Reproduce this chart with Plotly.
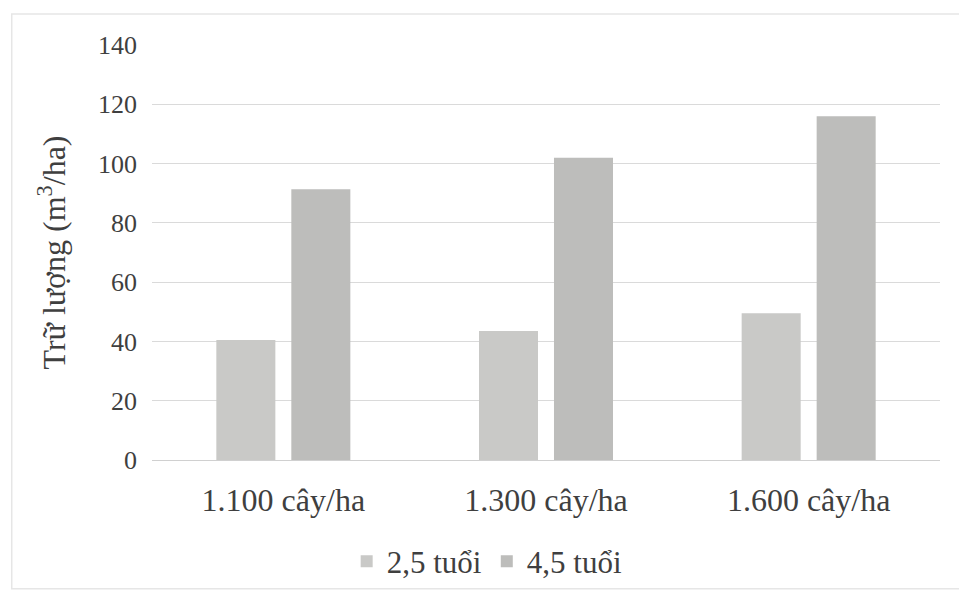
import plotly.graph_objects as go

# Stand density categories and standing volume (m3/ha) by stand age
densities = ["1.100 cây/ha", "1.300 cây/ha", "1.600 cây/ha"]
age_labels = ["2,5 tuổi", "4,5 tuổi"]
volume_2_5 = [40.5, 43.5, 49.5]
volume_4_5 = [91.3, 102, 116]
y_ticks = [0, 20, 40, 60, 80, 100, 120, 140]

FONT = "Liberation Serif"
TEXT = "#3f3f3f"

fig = go.Figure()
fig.add_trace(go.Bar(x=densities, y=volume_2_5, name=age_labels[0],
                     marker=dict(color="#c9c9c7", line=dict(width=0))))
fig.add_trace(go.Bar(x=densities, y=volume_4_5, name=age_labels[1],
                     marker=dict(color="#bdbdbb", line=dict(width=0))))

fig.update_layout(
    width=959, height=595,
    margin=dict(l=152, r=19, t=45, b=135),
    paper_bgcolor="white", plot_bgcolor="white",
    barmode="group", bargap=0.429, bargroupgap=0.213,
    font=dict(family=FONT, color=TEXT),
    showlegend=True,
    legend=dict(orientation="h", xref="container", yref="container",
                x=0.508, xanchor="center", y=0.056, yanchor="middle",
                bgcolor="rgba(0,0,0,0)",
                font=dict(size=31, family=FONT, color=TEXT),
                itemwidth=30, tracegroupgap=0),
    xaxis=dict(showgrid=False, showline=False, ticks="",
               tickfont=dict(size=32, family=FONT, color=TEXT),
               ticklabelstandoff=18),
    yaxis=dict(range=[0, 140], tickvals=y_ticks,
               showgrid=True, gridcolor="#dadada", gridwidth=1,
               zeroline=True, zerolinecolor="#d0d0d0", zerolinewidth=1,
               showline=False, ticks="",
               tickfont=dict(size=26, family=FONT, color=TEXT),
               ticklabelstandoff=14,
               title=dict(text="Trữ lượng (m<sup>3</sup>/ha)",
                          font=dict(size=32, family=FONT, color=TEXT),
                          standoff=22)),
    shapes=[dict(type="rect", xref="paper", yref="paper",
                 x0=-0.178, x1=1.05, y0=-0.31, y1=1.075,
                 line=dict(color="#e6e6e6", width=1.5), layer="below")],
)

fig.write_html("out.html")
